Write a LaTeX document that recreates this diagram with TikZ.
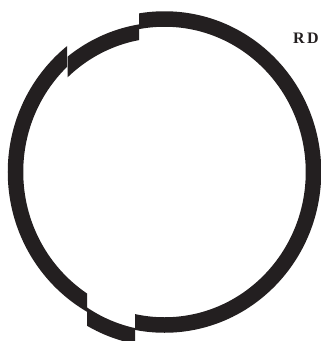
\documentclass[tikz,border=0pt]{standalone}
\usepackage{fontspec}
\setmainfont{Liberation Serif}
\usepackage{tikz}
\usepackage{xcolor}
\definecolor{ink}{RGB}{35,31,32}

\tikzset{
    ring/.style={draw=ink, line width=15.5pt},
    tag/.style={text=ink, font=\fontsize{16}{16}\selectfont\bfseries, inner sep=0pt}
}

\begin{document}
\begin{tikzpicture}[x=1pt, y=-1pt]
    \useasboundingbox (0,0) rectangle (321,341);
    \coordinate (o) at (164.5,172);
    \coordinate (oup) at (164.5,183);
    \coordinate (odown) at (164.5,186);
% main ring, left and right parts
\begin{scope}
    \clip (-5,-5) -- (67,-5) -- (67,172) -- (87,172) -- (87,350) -- (-5,350) -- cycle
          (139,-5) -- (330,-5) -- (330,350) -- (135,350) -- (135,172) -- (139,172) -- cycle;
    \draw[ring] (o) ellipse [x radius=149pt, y radius=153pt];
\end{scope}
% shifted piece, top left
\begin{scope}
    \clip (67.5,-5) rectangle (139,120);
    \draw[ring] (oup) ellipse [x radius=149pt, y radius=153pt];
\end{scope}
% shifted piece, bottom
\begin{scope}
    \clip (87,220) rectangle (135,350);
    \draw[ring] (odown) ellipse [x radius=149pt, y radius=153pt];
\end{scope}
    \node[tag] (rd) at (306,38) {R\hspace{2.5pt}D};
\end{tikzpicture}
\end{document}
